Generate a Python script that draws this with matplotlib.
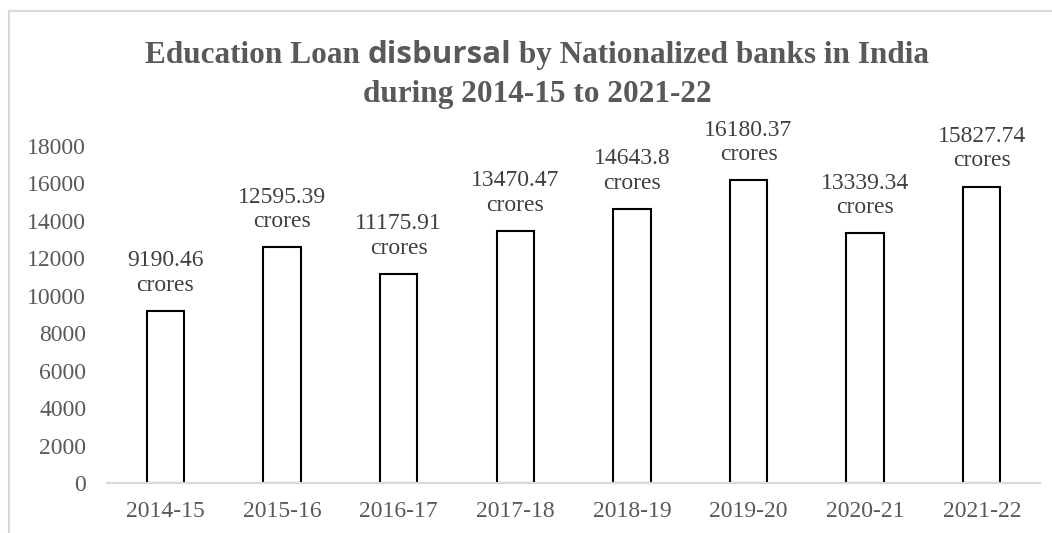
#!/usr/bin/env python3
"""Education loan disbursal by nationalized banks in India, 2014-15 to 2021-22."""

import matplotlib

matplotlib.use("Agg")
import matplotlib.pyplot as plt
from matplotlib.lines import Line2D

YEARS = ["2014-15", "2015-16", "2016-17", "2017-18",
         "2018-19", "2019-20", "2020-21", "2021-22"]
LOANS = [9190.46, 12595.39, 11175.91, 13470.47,
         14643.8, 16180.37, 13339.34, 15827.74]
VALUE_TEXT = ["9190.46", "12595.39", "11175.91", "13470.47",
              "14643.8", "16180.37", "13339.34", "15827.74"]
YTICKS = list(range(0, 18001, 2000))

SERIF = "Liberation Serif"
TICK_COLOR = "#595959"
LABEL_COLOR = "#404040"
GRID_COLOR = "#d9d9d9"

fig = plt.figure(figsize=(10.52, 5.33), dpi=100)
ax = fig.add_axes((0.1017, 0.0938, 0.887, 0.6322))

x = list(range(len(YEARS)))
ax.bar(x, LOANS, width=0.32, color="white", edgecolor="black",
       linewidth=1.5, zorder=2)

for xi, v, t in zip(x, LOANS, VALUE_TEXT):
    ax.annotate(f"{t}\ncrores", (xi, v), xytext=(0, 11),
                textcoords="offset points", ha="center", va="bottom",
                fontsize=17, family=SERIF, color=LABEL_COLOR,
                linespacing=1.2, annotation_clip=False)

ax.set_xlim(-0.5, len(YEARS) - 0.5)
ax.set_ylim(0, 18000)
ax.set_xticks(x)
ax.set_xticklabels(YEARS)
ax.set_yticks(YTICKS)
ax.tick_params(axis="both", length=0, labelsize=17, labelcolor=TICK_COLOR)
ax.tick_params(axis="x", pad=13)
ax.tick_params(axis="y", pad=15)
for lab in ax.get_xticklabels() + ax.get_yticklabels():
    lab.set_family(SERIF)
for side in ("top", "right", "left"):
    ax.spines[side].set_visible(False)
ax.spines["bottom"].set_color(GRID_COLOR)
ax.spines["bottom"].set_linewidth(1.5)
ax.spines["bottom"].set_zorder(3)

# title with one word in a sans face, as in the original
renderer = fig.canvas.get_renderer()
title_kw = dict(fontsize=22.5, fontweight="bold", color=TICK_COLOR, va="baseline")
parts = [
    ("Education Loan ", SERIF),
    ("disbursal", "Open Sans"),
    (" by Nationalized banks in India", SERIF),
]
texts = [fig.text(0, 0.882, s, family=f, **title_kw) for s, f in parts]
widths = [t.get_window_extent(renderer).width for t in texts]
cx = 537
left = cx - sum(widths) / 2
for t, w in zip(texts, widths):
    t.set_x(left / fig.bbox.width)
    left += w
fig.text(cx / fig.bbox.width, 0.809, "during 2014-15 to 2021-22",
         family=SERIF, ha="center", **title_kw)

# chart-area border (left and top edges visible)
fig.add_artist(Line2D([8.5 / 1052, 8.5 / 1052], [0, 1 - 10.5 / 533],
                      transform=fig.transFigure, color=GRID_COLOR, lw=1.5))
fig.add_artist(Line2D([8.5 / 1052, 1], [1 - 10.5 / 533, 1 - 10.5 / 533],
                      transform=fig.transFigure, color=GRID_COLOR, lw=1.5))

fig.savefig("out.png", dpi=100)
